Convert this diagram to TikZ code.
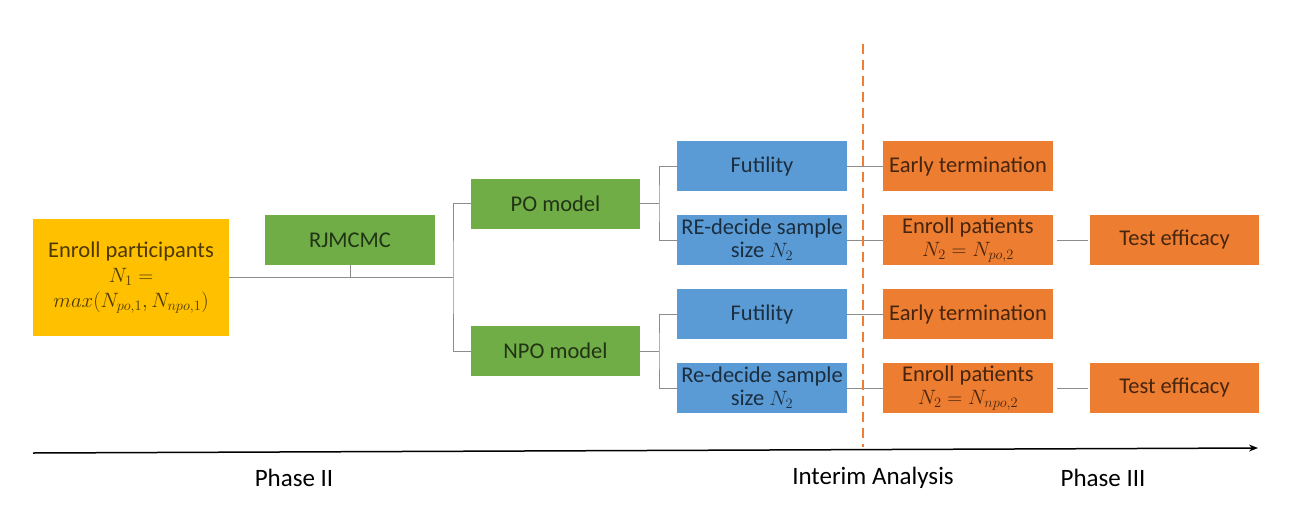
\documentclass[tikz,border=0pt]{standalone}
\usepackage{fontspec}
\setmainfont{Carlito}
\usetikzlibrary{arrows.meta}
\definecolor{cyel}{HTML}{FFC000}
\definecolor{cgrn}{HTML}{70AD47}
\definecolor{cblu}{HTML}{5B9BD5}
\definecolor{corg}{HTML}{ED7D31}
\definecolor{cline}{HTML}{8C8C8C}
\begin{document}
\begin{tikzpicture}[x=1pt,y=-1pt,
  box/.style={draw=none,minimum width=170pt,minimum height=50pt,inner sep=0pt,align=center,
    font=\fontsize{22.5}{23}\selectfont,text=black,text opacity=0.7},
  ybox/.style={box,fill=cyel,minimum width=196pt,minimum height=117pt,font=\fontsize{22.5}{25}\selectfont},
  gbox/.style={box,fill=cgrn},
  bbox/.style={box,fill=cblu},
  obox/.style={box,fill=corg},
  conn/.style={draw=cline,line width=0.9pt},
  lbl/.style={font=\fontsize{25}{28}\selectfont,text=black}]
\useasboundingbox (0,0) rectangle (1311,514);
\node[ybox] (enr) at (131,277.5) {Enroll participants\\$N_1=$\\$max(N_{po,1},N_{npo,1})$};
\node[gbox] (rj) at (350,240) {RJMCMC};
\node[gbox,minimum width=169pt] (po) at (555.5,203.5) {PO model};
\node[gbox,minimum width=169pt] (npo) at (555.5,351) {NPO model};
\node[bbox] (f1) at (762,166) {Futility};
\node[bbox] (r1) at (762,240) {RE-decide sample\\size $N_2$};
\node[bbox] (f2) at (762,314) {Futility};
\node[bbox] (r2) at (762,388) {Re-decide sample\\size $N_2$};
\node[obox] (e1) at (968,166) {Early termination};
\node[obox] (p1) at (968,240) {Enroll patients\\$N_2=N_{po,2}$};
\node[obox,minimum width=169pt] (t1) at (1174.5,240) {Test efficacy};
\node[obox] (e2) at (968,314) {Early termination};
\node[obox] (p2) at (968,388) {Enroll patients\\$N_2=N_{npo,2}$};
\node[obox,minimum width=169pt] (t2) at (1174.5,388) {Test efficacy};
% connectors
\coordinate (j0) at (453,277);
\draw[conn] (enr.east |- j0) -- (j0);
\draw[conn] (rj.south) -- (rj.south |- j0);
\draw[conn] (po.west) -| (j0) |- (npo.west);
\coordinate (j1) at (659,203.5);
\draw[conn] (po.east) -- (j1);
\draw[conn] (f1.west) -| (j1) |- (r1.west);
\coordinate (j2) at (659,351);
\draw[conn] (npo.east) -- (j2);
\draw[conn] (f2.west) -| (j2) |- (r2.west);
\draw[conn] (f1.east) -- (e1.west);
\draw[conn] (r1.east) -- (p1.west);
\draw[conn] (f2.east) -- (e2.west);
\draw[conn] (r2.east) -- (p2.west);
\draw[conn] ([xshift=4pt]p1.east) -- ([xshift=-2pt]t1.west);
\draw[conn] ([xshift=4pt]p2.east) -- ([xshift=-2pt]t2.west);
% interim dashed line
\coordinate (d0) at (863,44);
\coordinate (d1) at (863,447);
\draw[corg,line width=1.8pt,dash pattern=on 10pt off 6pt] (d0) -- (d1);
% time axis
\coordinate (a0) at (33,453);
\coordinate (a1) at (1258,448);
\draw[black,line width=1.5pt,-{Stealth[length=9pt,width=7pt]}] (a0) -- (a1);
\node[lbl] (ph2) at (294,478) {Phase II};
\node[lbl] (ia) at (873,478) {Interim Analysis};
\node[lbl] (ph3) at (1103,478) {Phase III};
\end{tikzpicture}
\end{document}
